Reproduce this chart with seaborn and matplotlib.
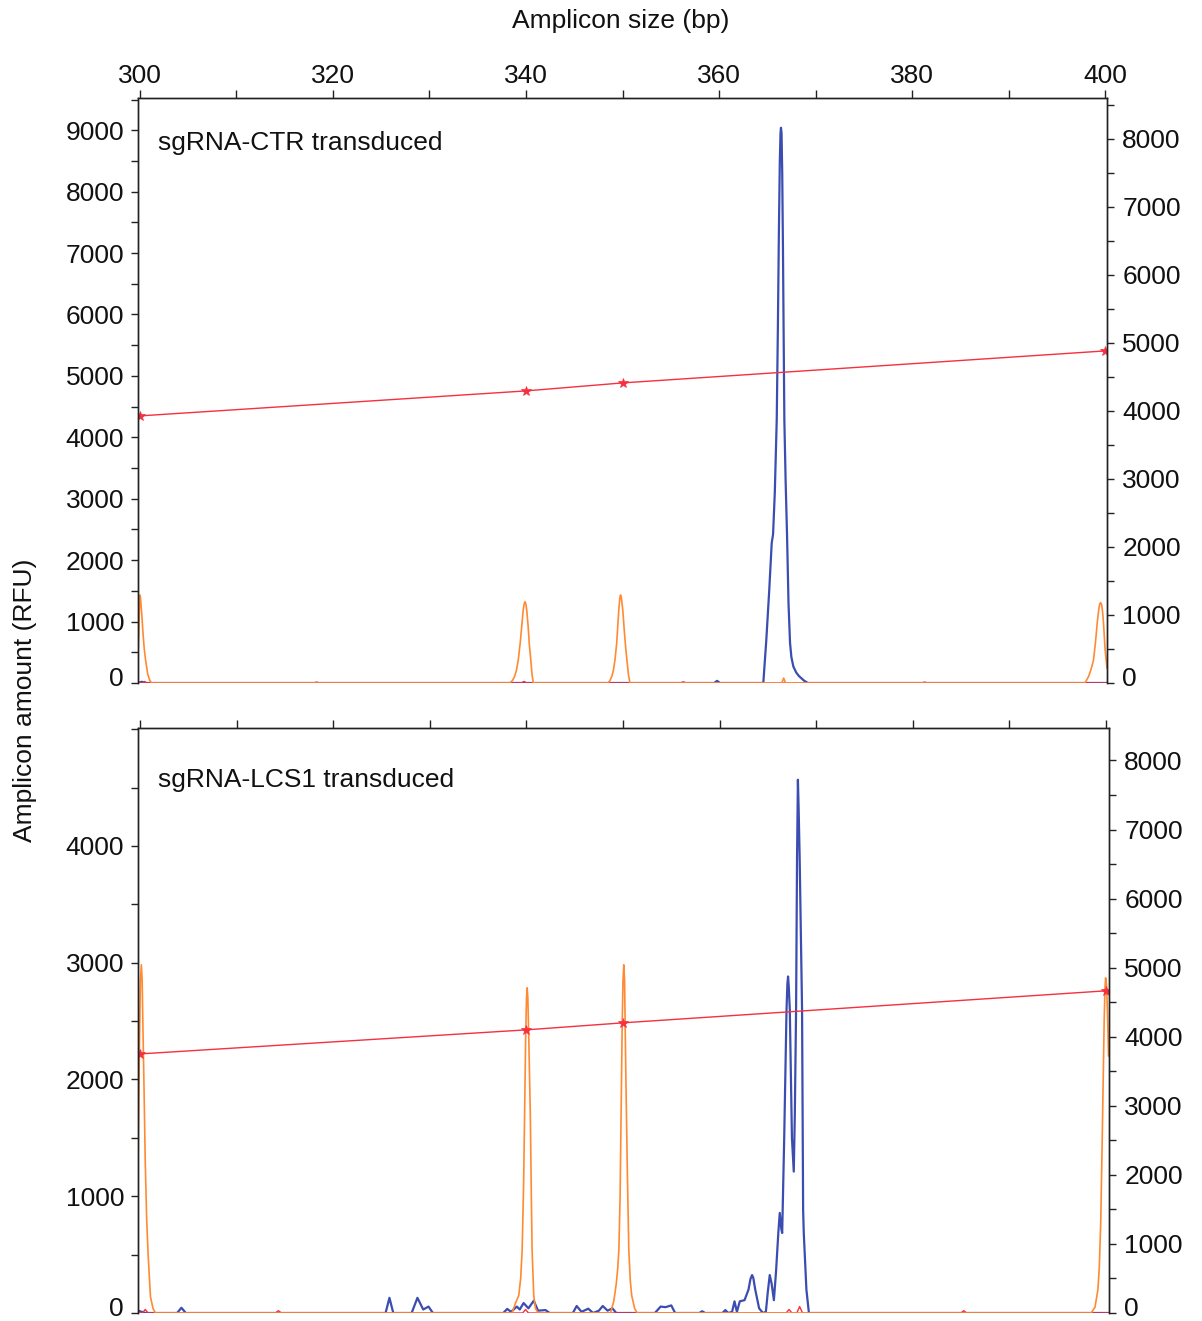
import matplotlib
matplotlib.use("Agg")
import matplotlib.pyplot as plt
from matplotlib.ticker import MultipleLocator
import matplotlib.transforms as mtransforms
import seaborn as sns

# ---------------- data ----------------
x_ticks = [300, 320, 340, 360, 380, 400]

# sgRNA-CTR panel
ctr_blue_bp = [299.8, 300.2, 300.6, 359.5, 359.8, 360.1, 364.59, 364.9, 365.2, 365.46, 365.6,
               365.78, 365.98, 366.1, 366.2, 366.3, 366.37, 366.42, 366.48, 366.55, 366.63,
               366.7, 366.77, 366.9, 367.05, 367.2, 367.36, 367.5, 367.7, 368.0, 368.3, 368.8,
               369.2, 400.2]
ctr_blue_rfu = [0, 20, 0, 0, 35, 0, 0, 700, 1500, 2280, 2420,
                3100, 4283, 5800, 7300, 8500, 8950, 9040, 8950, 8300, 7000,
                5600, 4283, 3300, 2400, 1300, 650, 420, 270, 170, 110, 40,
                0, 0]

ctr_orange_bp = [299.8, 299.9, 299.95, 300.0, 300.05, 300.1, 300.2, 300.3, 300.45, 300.59, 300.8, 301.0, 301.2,
                 338.3, 338.6, 338.8, 339.0, 339.2, 339.4, 339.55, 339.7, 339.8, 339.9, 340.0, 340.1,
                 340.23, 340.35, 340.5, 340.62, 340.75,
                 348.5, 348.7, 348.9, 349.05, 349.22, 349.4, 349.5, 349.62, 349.72, 349.8, 349.88,
                 349.97, 350.05, 350.2, 350.35, 350.5, 350.62, 350.78,
                 366.5, 366.7, 366.9,
                 397.9, 398.1, 398.3, 398.5, 398.65, 398.8, 399.0, 399.2, 399.35, 399.45, 399.55,
                 399.65, 399.75, 399.85, 400.0, 400.2]
ctr_orange_rfu = [430, 900, 1250, 1433, 1400, 1300, 1100, 850, 550, 370, 150, 50, 0,
                  0, 40, 100, 200, 375, 650, 908, 1170, 1280, 1324, 1280, 1150,
                  908, 620, 375, 150, 0,
                  0, 40, 110, 200, 375, 650, 900, 1200, 1380, 1433, 1390,
                  1270, 1150, 820, 540, 310, 130, 0,
                  0, 80, 0,
                  0, 50, 110, 200, 280, 375, 650, 1000, 1200, 1290, 1308,
                  1270, 1150, 950, 550, 240]

ctr_red_bp = [299.8, 300.3, 300.5, 300.7, 318.0, 318.3, 318.6, 339.5, 339.8, 340.1,
              356.0, 356.3, 356.6, 381.0, 381.3, 381.6, 400.2]
ctr_red_rfu = [0, 0, 25, 0, 0, 15, 0, 0, 25, 0, 0, 20, 0, 0, 15, 0, 0]

ctr_std_bp = [300, 340, 350, 400]
ctr_std_rfu = [4349, 4756, 4886, 5407]

# sgRNA-LCS1 panel
lcs_blue_bp = [299.75, 300.5, 303.8, 304.25, 304.7, 325.4, 325.8, 326.2, 328.1, 328.7, 329.3,
               329.85, 330.3, 337.6, 338.0, 338.4, 339.0, 339.3, 339.7, 340.2, 340.75, 341.2,
               341.97, 342.4, 344.8, 345.2, 345.7, 346.4, 346.9, 347.5, 347.9, 348.4, 348.9,
               349.3, 353.3, 353.9, 354.4, 355.0, 355.4, 357.9, 358.2, 358.5, 360.3, 360.6,
               360.9, 361.3, 361.55, 361.8, 362.1, 362.59, 363.0, 363.2, 363.37, 363.5, 363.7,
               364.1, 364.5, 364.8, 365.0, 365.2, 365.4, 365.63, 365.85, 366.1, 366.24, 366.4,
               366.49, 366.7, 366.94, 367.03, 367.1, 367.17, 367.28, 367.5, 367.69, 367.8,
               367.93, 368.03, 368.12, 368.2, 368.3, 368.55, 368.66, 368.73, 369.0, 369.26, 400.3]
lcs_blue_rfu = [20, 0, 0, 45, 0, 0, 130, 0, 0, 130, 30,
                55, 0, 0, 35, 10, 55, 30, 85, 40, 105, 20,
                25, 0, 0, 60, 10, 37, 0, 20, 60, 20, 40,
                0, 0, 55, 50, 65, 0, 0, 15, 0, 0, 25,
                0, 10, 100, 10, 100, 110, 200, 290, 325, 300, 200,
                40, 0, 10, 180, 325, 250, 110, 350, 700, 857, 720,
                685, 1500, 2596, 2820, 2882, 2800, 2596, 1500, 1211, 1700,
                2596, 3900, 4567, 4300, 3900, 2596, 880, 680, 200, 0, 0]

lcs_orange_bp = [299.75, 299.9, 300.0, 300.1, 300.18, 300.25, 300.38, 300.5, 300.65, 300.8, 301.04, 301.3, 301.55,
                 338.5, 338.86, 339.2, 339.4, 339.55, 339.7, 339.8, 339.92, 340.0, 340.07, 340.14,
                 340.25, 340.4, 340.5, 340.58, 340.75, 340.93, 341.2,
                 348.7, 349.04, 349.3, 349.45, 349.57, 349.7, 349.8, 349.92, 350.0, 350.08, 350.16,
                 350.3, 350.45, 350.6, 350.75, 350.9, 351.2, 351.47,
                 398.5, 398.9, 399.2, 399.35, 399.5, 399.65, 399.75, 399.85, 399.93, 400.0, 400.1,
                 400.2, 400.3]
lcs_orange_rfu = [1225, 2300, 2850, 2982, 2850, 2500, 1900, 1300, 800, 500, 140, 40, 0,
                  0, 85, 150, 300, 540, 1100, 1680, 2400, 2700, 2785, 2700,
                  2300, 1680, 1000, 540, 150, 40, 0,
                  0, 100, 250, 380, 540, 1000, 1700, 2500, 2850, 2982, 2850,
                  2000, 1200, 540, 280, 150, 40, 0,
                  0, 50, 200, 400, 800, 1500, 2000, 2500, 2780, 2870, 2800,
                  2550, 2200]

lcs_red_bp = [299.75, 300.2, 300.5, 300.8, 314.0, 314.3, 314.6, 339.6, 339.9, 340.2,
              366.9, 367.2, 367.5, 368.0, 368.3, 368.6, 385.0, 385.3, 385.6, 400.3]
lcs_red_rfu = [0, 0, 30, 0, 0, 20, 0, 0, 30, 0, 0, 30, 0, 0, 55, 0, 0, 20, 0, 0]

lcs_std_bp = [300, 340, 350, 400]
lcs_std_rfu = [2219, 2425, 2485, 2759]

panel_titles = ["sgRNA-CTR transduced", "sgRNA-LCS1 transduced"]

# ---------------- style ----------------
sns.set_theme(style="ticks")
plt.rcParams['font.family'] = ['Liberation Sans', 'DejaVu Sans']
plt.rcParams['axes.linewidth'] = 1.0
FS = 19

BLUE = "#3b4db0"
ORANGE = "#ff8a33"
RED = "#f5303f"

W, H = 1202, 1321
fig = plt.figure(figsize=(W / 100, H / 100), dpi=100)

def frac(left, top, right, bottom):
    return [left / W, 1 - bottom / H, (right - left) / W, (bottom - top) / H]

ax_top = fig.add_axes(frac(138, 98, 1107, 683))
ax_bot = fig.add_axes(frac(138, 728, 1109, 1313))

panels = [
    (ax_top, ctr_blue_bp, ctr_blue_rfu, ctr_orange_bp, ctr_orange_rfu, ctr_red_bp, ctr_red_rfu,
     ctr_std_bp, ctr_std_rfu, 9525, 9000, 8600, True, 0.923),
    (ax_bot, lcs_blue_bp, lcs_blue_rfu, lcs_orange_bp, lcs_orange_rfu, lcs_red_bp, lcs_red_rfu,
     lcs_std_bp, lcs_std_rfu, 5010, 4000, 8470, False, 0.911),
]

zero_shift = mtransforms.ScaledTranslation(0, 7 / 100, fig.dpi_scale_trans)

for i, (ax, bbp, brfu, obp, orfu, rbp, rrfu, sbp, srfu, ymax, ytopmaj, y2max, labeltop, ty) in enumerate(panels):
    xmin, xmax = (299.8, 400.2) if i == 0 else (299.75, 400.35)
    sns.lineplot(x=bbp, y=brfu, ax=ax, color=BLUE, lw=1.6, estimator=None, sort=False)
    sns.lineplot(x=rbp, y=rrfu, ax=ax, color=RED, lw=1.0, estimator=None, sort=False)
    sns.lineplot(x=obp, y=orfu, ax=ax, color=ORANGE, lw=1.2, estimator=None, sort=False)
    sns.lineplot(x=sbp, y=srfu, ax=ax, color=RED, lw=1.0, estimator=None, sort=False,
                 marker="*", markersize=7, markeredgewidth=0.5, markeredgecolor=RED)
    ax.set_xlim(xmin, xmax)
    ax.set_ylim(0, ymax)
    ax.set_xlabel("")
    ax.set_ylabel("")

    ax.xaxis.tick_top()
    ax.set_xticks(x_ticks)
    ax.xaxis.set_minor_locator(MultipleLocator(10))
    ax.tick_params(axis='x', which='both', top=True, bottom=False, labeltop=labeltop,
                   labelbottom=False, direction='out', length=6, width=1, labelsize=FS,
                   pad=1, colors='#222222')
    ax.tick_params(axis='x', which='major', labelcolor='#111111')

    ax.set_yticks(list(range(0, ytopmaj + 1, 1000)))
    ax.yaxis.set_minor_locator(MultipleLocator(500))
    ax.tick_params(axis='y', which='both', left=True, direction='out', length=5, width=1,
                   labelsize=FS, pad=5, colors='#222222')
    ax.tick_params(axis='y', which='major', labelcolor='#111111')

    ax.spines['bottom'].set_visible(False)
    ax.spines['right'].set_visible(True)
    ax.spines['top'].set_visible(True)
    for s in ax.spines.values():
        s.set_color('#222222')

    ax2 = ax.twinx()
    ax2.set_ylim(0, y2max)
    ax2.set_yticks(list(range(0, 8001, 1000)))
    ax2.yaxis.set_minor_locator(MultipleLocator(500))
    ax2.tick_params(axis='y', which='both', right=True, direction='out', length=5, width=1,
                    labelsize=FS, pad=6, colors='#222222')
    ax2.tick_params(axis='y', which='major', labelcolor='#111111')
    ax2.spines['bottom'].set_visible(False)
    for s in ax2.spines.values():
        s.set_color('#222222')
    ax2.grid(False)
    ax.grid(False)

    # raise the "0" labels slightly, as in the reference
    for a, getter in ((ax, ax.yaxis.get_majorticklabels), (ax2, ax2.yaxis.get_majorticklabels)):
        fig.canvas.draw()
        lab = getter()[0]
        lab.set_transform(lab.get_transform() + zero_shift)

    ax.text(0.0206, ty, panel_titles[i], transform=ax.transAxes, fontsize=FS,
            ha='left', va='center', color='#111111')

fig.text(621 / W, 1 - 21 / H, "Amplicon size (bp)", ha='center', va='center',
         fontsize=FS, color='#111111')
fig.text(25 / W, 1 - 700 / H, "Amplicon amount (RFU)", ha='center', va='center',
         rotation=90, fontsize=FS, color='#111111')

fig.savefig("out.png", dpi=100)
